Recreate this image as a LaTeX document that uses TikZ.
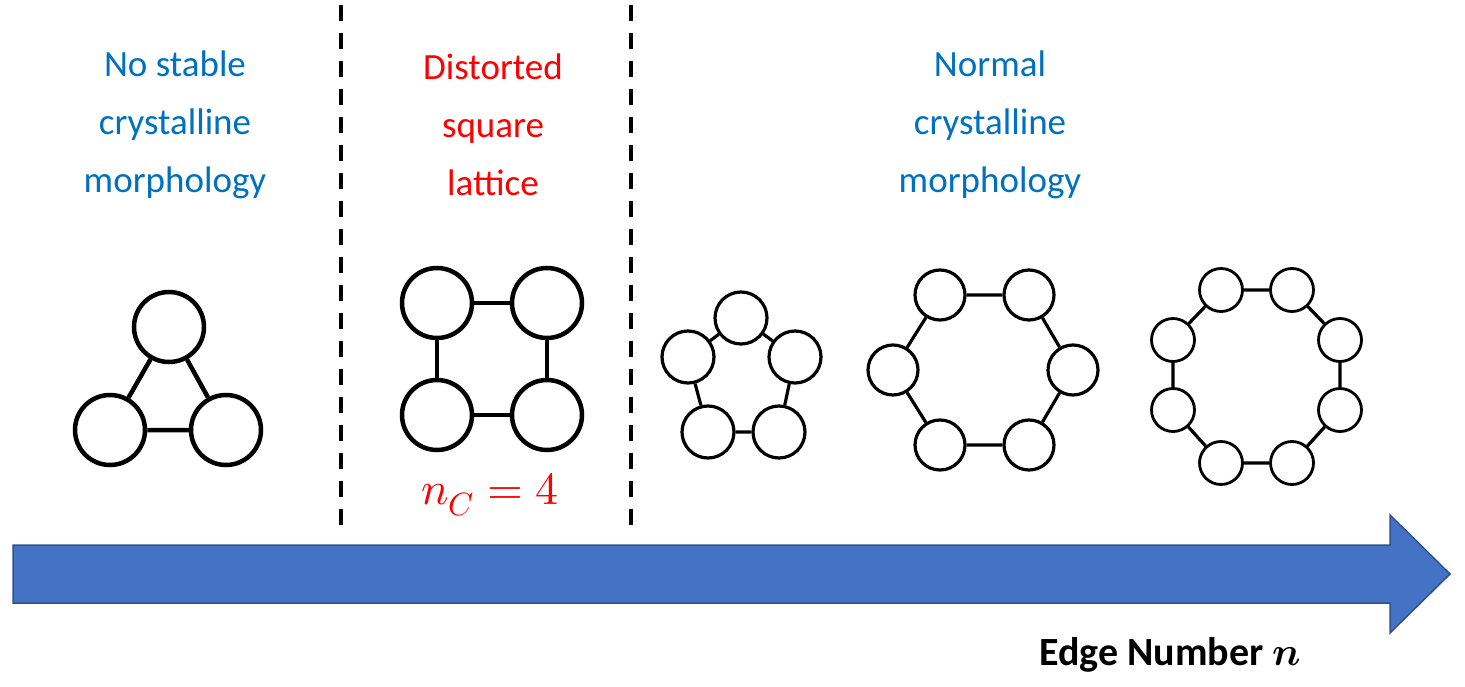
\documentclass[tikz,border=0pt]{standalone}
\usepackage{fontspec}
\setmainfont{Carlito}
\usepackage{unicode-math}
\setmathfont{Latin Modern Math}
\definecolor{tblue}{HTML}{0070C0}
\definecolor{abl}{HTML}{4472C4}
\definecolor{abd}{HTML}{2F528F}
\begin{document}
\begin{tikzpicture}[x=1pt,y=-1pt,
  lab/.style={align=center,font=\fontsize{37}{58}\selectfont},
  big/.style={circle,draw,line width=4.5pt,minimum size=70pt,inner sep=0},
  med/.style={circle,draw,line width=3.2pt,minimum size=52pt,inner sep=0},
  hx/.style={circle,draw,line width=3.2pt,minimum size=50pt,inner sep=0},
  sm/.style={circle,draw,line width=2.8pt,minimum size=43pt,inner sep=0},
  bond/.style={line width=4.5pt},
  bondt/.style={line width=3.2pt},
  sep/.style={dashed,line width=4pt,dash pattern=on 16pt off 12pt}]
\useasboundingbox (0,0) rectangle (1465,687);
\node[lab,text=tblue] (t1) at (175,125) {No stable\\crystalline\\morphology};
\node[lab,text=red] (t2) at (493,125) {Distorted\\square\\lattice};
\node[lab,text=tblue] (t3) at (990,125) {Normal\\crystalline\\morphology};
\coordinate (d1a) at (341,5); \coordinate (d1b) at (341,530);
\coordinate (d2a) at (631,5); \coordinate (d2b) at (631,530);
\draw[sep] (d1a) -- (d1b);
\draw[sep] (d2a) -- (d2b);
% triangle
\node[big] (a1) at (169,327) {}; \node[big] (a2) at (110,430) {}; \node[big] (a3) at (226,430) {};
\draw[bond] (a1)--(a2) (a2)--(a3) (a3)--(a1);
% square
\node[big] (b1) at (437,303) {}; \node[big] (b2) at (547,303) {};
\node[big] (b3) at (437,415) {}; \node[big] (b4) at (547,415) {};
\draw[bond] (b1)--(b2) (b2)--(b4) (b4)--(b3) (b3)--(b1);
\node[text=red,font=\fontsize{46}{50}\selectfont] (nc) at (490,495) {$n_C=4$};
% pentagon
\node[med] (p1) at (741,318) {}; \node[med] (p2) at (795,357) {}; \node[med] (p3) at (779,432) {};
\node[med] (p4) at (708,432) {}; \node[med] (p5) at (688,357) {};
\draw[bondt] (p1)--(p2) (p2)--(p3) (p3)--(p4) (p4)--(p5) (p5)--(p1);
% hexagon
\node[hx] (h1) at (940,295) {}; \node[hx] (h2) at (1029,295) {}; \node[hx] (h3) at (1073,370) {};
\node[hx] (h4) at (1029,445) {}; \node[hx] (h5) at (940,445) {}; \node[hx] (h6) at (893,370) {};
\draw[bondt] (h1)--(h2) (h2)--(h3) (h3)--(h4) (h4)--(h5) (h5)--(h6) (h6)--(h1);
% octagon
\node[sm] (o1) at (1221,290) {}; \node[sm] (o2) at (1292,290) {}; \node[sm] (o3) at (1340,340) {};
\node[sm] (o4) at (1340,410) {}; \node[sm] (o5) at (1292,463) {}; \node[sm] (o6) at (1221,463) {};
\node[sm] (o7) at (1173,410) {}; \node[sm] (o8) at (1173,340) {};
\draw[bondt] (o1)--(o2) (o2)--(o3) (o3)--(o4) (o4)--(o5) (o5)--(o6) (o6)--(o7) (o7)--(o8) (o8)--(o1);
% arrow
\draw[fill=abl,draw=abd,line width=1.5pt] (13,545) -- (1390,545) -- (1390,515) -- (1450,574) -- (1390,633) -- (1390,603) -- (13,603) -- cycle;
\node[font=\bfseries\fontsize{40}{44}\selectfont] (en) at (1170,655) {Edge Number $\symbfit{n}$};
\end{tikzpicture}
\end{document}
